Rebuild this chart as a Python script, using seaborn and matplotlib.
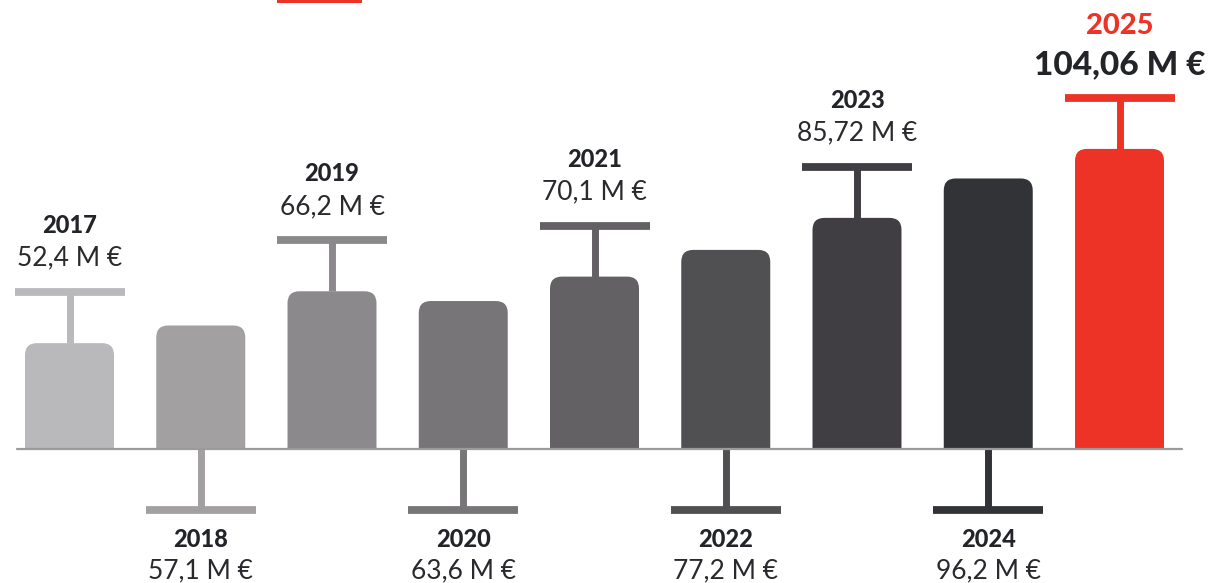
import matplotlib
matplotlib.use('Agg')
import matplotlib.pyplot as plt
import seaborn as sns
import numpy as np
from matplotlib.patches import FancyBboxPatch, Rectangle

# data
years = ['2017', '2018', '2019', '2020', '2021', '2022', '2023', '2024', '2025']
values = [52.4, 57.1, 66.2, 63.6, 70.1, 77.2, 85.72, 96.2, 104.06]
value_labels = ['52,4 M €', '57,1 M €', '66,2 M €', '63,6 M €', '70,1 M €',
                '77,2 M €', '85,72 M €', '96,2 M €', '104,06 M €']
bar_colors = ['#b9b8ba', '#a2a0a1', '#8b898c', '#777577', '#636163',
              '#504f51', '#403e42', '#313337', '#ec3326']
label_up = [True, False, True, False, True, False, True, False, True]

BASE = 24.25          # value sitting on the baseline
PX = 3.76             # pixels per M€
X0, PITCH = 69.5, 131.25
W, H = 1212, 583
BASELINE_PX = 449

sns.set_theme(style='white')
plt.rcParams['font.family'] = ['Lato', 'DejaVu Sans']

fig = plt.figure(figsize=(W / 100, H / 100), dpi=100)
ax = fig.add_axes([0, 0, 1, 1])

heights = [v - BASE for v in values]
sns.barplot(x=years, y=heights, hue=years, palette=bar_colors, legend=False,
            width=0.678, ax=ax, saturation=1)

ax.set_xlim(-X0 / PITCH, (W - X0) / PITCH)
ax.set_ylim(-(H - BASELINE_PX) / PX, BASELINE_PX / PX)
ax.axis('off')

# rounded tops, bottom corners cut off at the baseline
r = 12 / PITCH
aspect = PITCH / PX
ry = 14 / PX
bars = list(ax.patches)
for p in bars:
    x, w, h = p.get_x(), p.get_width(), p.get_height()
    c = p.get_facecolor()
    p.remove()
    fb = FancyBboxPatch((x, -ry), w, h + ry, boxstyle=f'round,pad=0,rounding_size={r}',
                        mutation_aspect=aspect, fc=c, ec='none', zorder=2)
    ax.add_patch(fb)
    fb.set_clip_path(Rectangle((x - 1, 0), w + 2, 500, transform=ax.transData))

# baseline
ax.plot([(17 - X0) / PITCH, (1182 - X0) / PITCH], [0, 0], color='#9b9b9b', lw=1.6, zorder=3)

cap_up = 51 / PX
cap_down = -61 / PX
half_cap = 55 / PITCH
for i, (yr, h, lab, col, up) in enumerate(zip(years, heights, value_labels, bar_colors, label_up)):
    if up:
        y_cap = h + cap_up
        ax.plot([i, i], [h, y_cap], color=col, lw=5, solid_capstyle='butt', zorder=1)
    else:
        y_cap = cap_down
        ax.plot([i, i], [0, y_cap], color=col, lw=5, solid_capstyle='butt', zorder=1)
    ax.plot([i - half_cap, i + half_cap], [y_cap, y_cap], color=col, lw=5.6,
            solid_capstyle='butt', zorder=1)

    if yr == '2025':
        ax.annotate(yr, (i, y_cap), xytext=(0, 46), textcoords='offset points',
                    ha='center', va='baseline', fontsize=21, fontweight='black',
                    color='#ec3326')
        ax.annotate(lab, (i, y_cap), xytext=(0, 17), textcoords='offset points',
                    ha='center', va='baseline', fontsize=24, fontweight='black',
                    color='#222428')
    elif up:
        ax.annotate(yr, (i, y_cap), xytext=(0, 42.5), textcoords='offset points',
                    ha='center', va='baseline', fontsize=17, fontweight='black',
                    color='#222428')
        ax.annotate(lab, (i, y_cap), xytext=(0, 19), textcoords='offset points',
                    ha='center', va='baseline', fontsize=19, fontweight='normal',
                    color='#2a2a2e')
    else:
        ax.annotate(yr, (i, y_cap), xytext=(0, -26.3), textcoords='offset points',
                    ha='center', va='baseline', fontsize=17, fontweight='black',
                    color='#222428')
        ax.annotate(lab, (i, y_cap), xytext=(0, -49), textcoords='offset points',
                    ha='center', va='baseline', fontsize=19, fontweight='normal',
                    color='#2a2a2e')

# red tab cut by the top edge
fig.patches.append(Rectangle((277 / W, 1 - 3 / H), 85 / W, 0.05, transform=fig.transFigure,
                             fc='#ec3326', ec='none'))

fig.savefig('out.png', dpi=100)
